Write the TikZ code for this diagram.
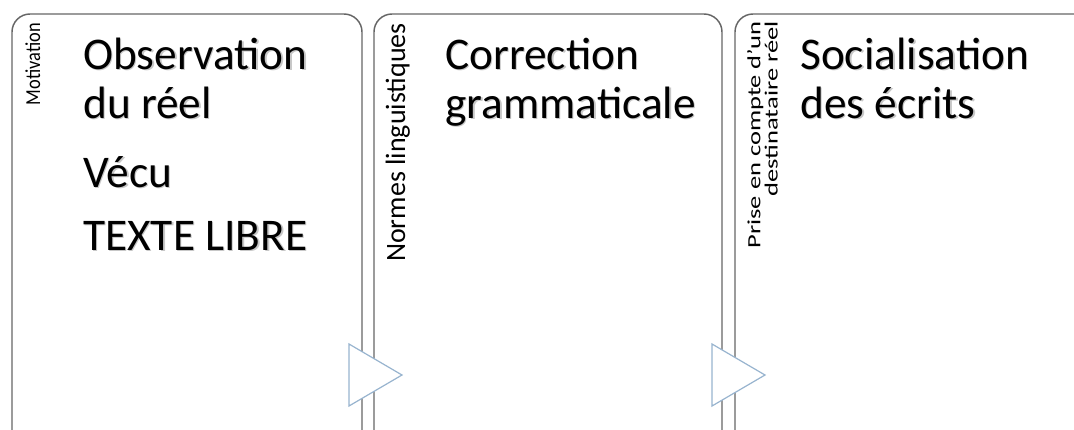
\documentclass[tikz,border=0pt]{standalone}
\usepackage{fontspec}
\setmainfont{Carlito}
\usepackage{tikz}

\definecolor{frameGray}{HTML}{666666}
\definecolor{arrowBlue}{HTML}{98B4CF}

\newcommand{\softShadow}[1]{\makebox[0pt][l]{\kern1.1pt\raisebox{-1.3pt}{\textcolor{black!22}{#1}}}#1}

\tikzset{
    stageBox/.style={draw=frameGray, line width=1.1pt, rounded corners=13.5pt},
    stageArrow/.style={draw=arrowBlue, line width=0.9pt, fill=white, line join=miter},
    mainText/.style={inner sep=0pt, align=left, font=\fontsize{34}{36.8}\selectfont},
    sideText/.style={inner sep=0pt, rotate=90}
}

\begin{document}
\begin{tikzpicture}[x=0.75pt, y=-0.75pt]
        \useasboundingbox (0,0) rectangle (1074,429);
        \begin{scope}
            \clip (0,0) rectangle (1074,429);
            \draw[stageBox] (12,14) rectangle (362,448);
            \draw[stageBox] (374,14) rectangle (722,448);
            \draw[stageBox] (735,14) rectangle (1095,448);
        \end{scope}

        \node[sideText, anchor=base east, font=\fontsize{16}{18}\selectfont] (motiv) at (40,23) {\scalebox{0.86}[1]{Motivation}};
        \node[mainText, anchor=base west] (obs) at (83,69) {\softShadow{Observation}};
        \node[mainText, anchor=base west] (reel) at (83,118) {\softShadow{du réel}};
        \node[mainText, anchor=base west] (vecu) at (83,187) {\softShadow{Vécu}};
        \node[mainText, anchor=base west] (libre) at (83,250) {\softShadow{TEXTE LIBRE}};

        \node[sideText, anchor=base east, font=\fontsize{21}{23}\selectfont] (normes) at (405,23) {Normes linguistiques};
        \node[mainText, anchor=base west] (corr) at (445,69) {\softShadow{Correction}};
        \node[mainText, anchor=base west] (gram) at (445,118) {\softShadow{grammaticale}};

        \node[sideText, anchor=north east, align=right, font=\fontsize{14}{12.8}\selectfont] (prise) at (747,21) {\scalebox{1.42}[1]{Prise en compte d’un}\\\scalebox{1.42}[1]{destinataire réel}};
        \node[mainText, anchor=base west] (social) at (800,69) {\softShadow{Socialisation}};
        \node[mainText, anchor=base west] (ecrits) at (800,118) {\softShadow{des écrits}};

        \draw[stageArrow] (349,344) -- (402,375) -- (349,406) -- cycle;
        \draw[stageArrow] (712,344) -- (765,375) -- (712,406) -- cycle;
    \end{tikzpicture}
\end{document}
